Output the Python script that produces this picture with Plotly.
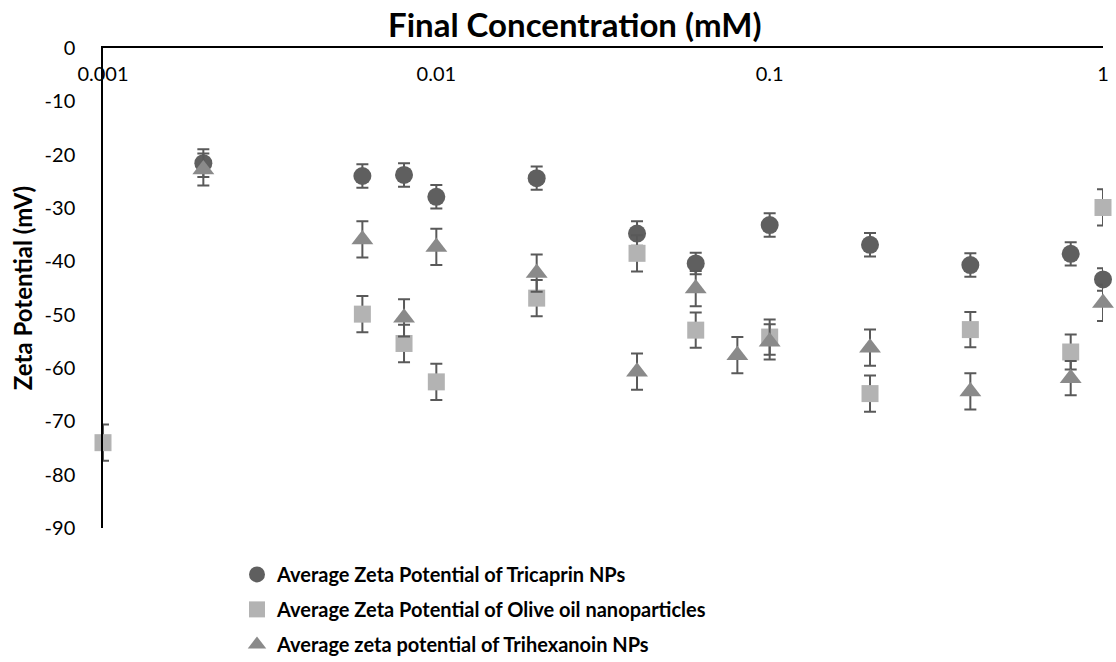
import plotly.graph_objects as go

# ---- data ----
tri_x = [0.002, 0.006, 0.008, 0.01, 0.02, 0.04, 0.06, 0.1, 0.2, 0.4, 0.8, 1.0]
tri_y = [-21.6, -24.0, -23.8, -27.9, -24.4, -34.8, -40.4, -33.2, -36.9, -40.7, -38.6, -43.4]
tri_err = [2.6, 2.2, 2.2, 2.2, 2.2, 2.3, 2.0, 2.2, 2.2, 2.2, 2.2, 2.1]

olive_x = [0.001, 0.006, 0.008, 0.01, 0.02, 0.04, 0.06, 0.1, 0.2, 0.4, 0.8, 1.0]
olive_y = [-74.0, -49.9, -55.4, -62.6, -46.9, -38.5, -52.9, -54.2, -64.8, -52.8, -57.0, -29.9]
olive_err = [3.4, 3.4, 3.5, 3.4, 3.4, 3.4, 3.3, 3.3, 3.4, 3.3, 3.3, 3.4]

hex_x = [0.002, 0.006, 0.008, 0.01, 0.02, 0.04, 0.06, 0.08, 0.1, 0.2, 0.4, 0.8, 1.0]
hex_y = [-22.8, -35.9, -50.6, -37.3, -42.2, -60.7, -45.1, -57.6, -55.1, -56.2, -64.4, -61.9, -47.8]
hex_err = [3.0, 3.4, 3.5, 3.4, 3.5, 3.4, 3.3, 3.4, 3.3, 3.4, 3.4, 3.2, 3.4]

x_tickvals = [0.001, 0.01, 0.1, 1]
x_ticktext = ["0.001", "0.01", "0.1", "1"]
y_tickvals = [0, -10, -20, -30, -40, -50, -60, -70, -80, -90]
y_ticktext = ["0", "-10", "-20", "-30", "-40", "-50", "-60", "-70", "-80", "-90"]

names = [
    "Average Zeta Potential of Tricaprin NPs",
    "Average Zeta Potential of Olive oil nanoparticles",
    "Average zeta potential of Trihexanoin NPs",
]
title_text = "Final Concentration (mM)"
ytitle_text = "Zeta Potential (mV)"

FONT = "Lato, 'Open Sans', sans-serif"
ERR_COLOR = "#595959"

def err(vals):
    return dict(type="data", array=vals, visible=True, color=ERR_COLOR,
                thickness=2, width=6)

fig = go.Figure()
fig.add_trace(go.Scatter(
    x=tri_x, y=tri_y, mode="markers", name=names[0], legendgroup="a",
    marker=dict(symbol="circle", size=18, color="#5f5f5f"),
    error_y=err(tri_err), cliponaxis=False))
fig.add_trace(go.Scatter(
    x=olive_x, y=olive_y, mode="markers", name=names[1], legendgroup="b",
    marker=dict(symbol="square", size=17, color="#b3b3b3"),
    error_y=err(olive_err), cliponaxis=False))
fig.add_trace(go.Scatter(
    x=hex_x, y=hex_y, mode="markers", name=names[2], legendgroup="c",
    marker=dict(symbol="triangle-up", size=19, color="#8a8a8a"),
    error_y=err(hex_err), cliponaxis=False))

fig.update_layout(
    width=1116, height=662, autosize=False,
    margin=dict(l=103, r=13, t=48, b=134, pad=0, autoexpand=False),
    paper_bgcolor="white", plot_bgcolor="white",
    font=dict(family=FONT, size=20, color="#000000"),
    title=dict(text=title_text, x=0.515, xanchor="center",
               y=0.962, yanchor="middle", yref="container",
               font=dict(family=FONT, size=33, color="#000000", weight="bold")),
    showlegend=True,
    legend=dict(
        x=0.134, xanchor="left", y=-0.056, yanchor="top",
        orientation="v", bgcolor="rgba(0,0,0,0)",
        font=dict(family=FONT, size=20, color="#000000", weight="bold"),
        tracegroupgap=6, itemwidth=30,
    ),
    xaxis=dict(
        type="log", range=[-3, 0], side="top",
        tickvals=x_tickvals, ticktext=x_ticktext,
        ticklabelposition="inside", ticklabeloverflow="allow",
        ticks="", ticklabelstandoff=20,
        tickfont=dict(family=FONT, size=20, color="#000000"),
        showline=True, linecolor="#000000", linewidth=1.5,
        showgrid=False, zeroline=False,
    ),
    yaxis=dict(
        range=[-90, 0], tickvals=y_tickvals, ticktext=y_ticktext,
        ticks="", ticklabelstandoff=22,
        tickfont=dict(family=FONT, size=20, color="#000000"),
        showline=True, linecolor="#000000", linewidth=1.5,
        showgrid=False, zeroline=False,
        title=dict(text=ytitle_text,
                   font=dict(family=FONT, size=24, color="#000000", weight="bold"),
                   standoff=5),
    ),
)

fig.write_html("out.html")
